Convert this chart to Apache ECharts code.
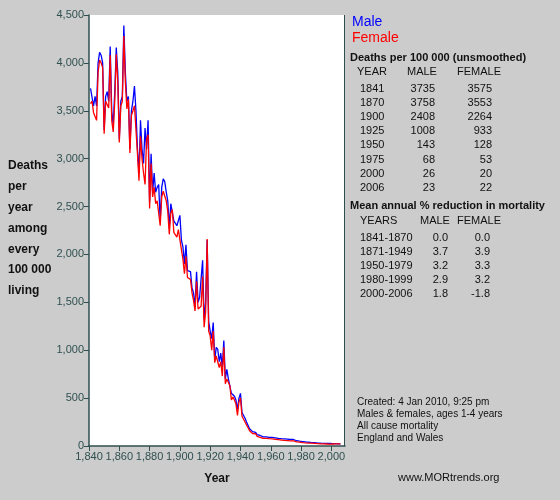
<!DOCTYPE html><html><head><meta charset="utf-8"><script src="https://cdn.jsdelivr.net/npm/echarts@6/dist/echarts.min.js"></script>
<style>html,body{margin:0;background:#ccc}#c{width:560px;height:500px}</style></head><body><div id="c"></div><script>
const startYear=1841;
const male=[3735,3720,3550,3650,3550,4000,4110,4080,4000,3300,
3650,3700,3600,4170,3500,3350,3700,4160,3900,3200,
3600,3650,4390,3900,3600,3650,3100,3500,3600,3758,
3500,3100,2850,3400,3100,2950,3320,3100,3400,2550,
3050,2650,2850,2650,2700,2730,2350,2700,2790,2760,
2650,2560,2280,2530,2520,2350,2350,2300,2300,2408,
2150,2080,1900,2100,1830,1820,1820,1650,1600,1450,
1820,1500,1550,1550,1940,1320,1500,2150,1300,1200,
1120,1290,900,1030,1008,880,970,820,1100,700,
800,700,690,550,570,520,480,380,500,550,
350,330,290,250,230,180,170,150,130,143,
120,110,110,100,95,90,95,92,90,88,
90,88,85,82,80,78,76,75,74,72,
72,70,68,66,68,60,55,52,50,48,
46,44,42,40,40,38,36,35,34,32,
31,30,29,28,28,27,27,26,26,26,
25,25,24,24,23,23];
const female=[3575,3600,3480,3500,3400,3900,4030,4000,3950,3260,
3600,3600,3530,4080,3400,3280,3600,4090,3800,3170,
3550,3600,4280,3800,3520,3620,3060,3450,3500,3553,
3300,3050,2770,3230,3000,2850,2730,3200,3250,2480,
2950,2600,2700,2530,2560,2580,2300,2600,2660,2640,
2560,2450,2210,2430,2470,2230,2230,2180,2260,2264,
2050,1950,1800,1980,1760,1740,1740,1600,1520,1410,
1720,1430,1450,1460,1770,1240,1400,2160,1200,1150,
1000,1200,870,940,933,820,880,730,1030,650,
700,680,630,480,510,480,440,320,460,500,
310,300,250,220,190,160,140,130,115,128,
100,95,90,85,80,78,80,78,76,75,
74,72,70,68,66,64,62,60,58,56,
56,55,54,52,53,48,44,42,40,38,
36,34,33,32,31,30,29,28,27,26,
25,24,23,23,22,22,21,21,20,20,
21,21,22,22,22,22];
const tableRows=[["1841","3735","3575"],["1870","3758","3553"],["1900","2408","2264"],["1925","1008","933"],["1950","143","128"],["1975","68","53"],["2000","26","20"],["2006","23","22"]];
const redRows=[["1841-1870","0.0","0.0"],["1871-1949","3.7","3.9"],["1950-1979","3.2","3.3"],["1980-1999","2.9","3.2"],["2000-2006","1.8","-1.8"]];
const notes=["Created: 4 Jan 2010, 9:25 pm","Males & females, ages 1-4 years","All cause mortality","England and Wales"];
const yTitle=["Deaths","per","year","among","every","100 000","living"];
const F='Arial, "Liberation Sans", sans-serif';
const toPairs=a=>a.map((v,i)=>[startYear+i,v]);
const g=[];
const t=(x,y,text,o={})=>g.push({type:'text',x,y,style:Object.assign({text,font:(o.bold?'bold ':'')+(o.size||11)+'px '+F,fill:o.color||'#111',align:o.align||'left',verticalAlign:'middle'},{})});
t(352,22,'Male',{size:14,color:'#0000ff'});
t(352,38,'Female',{size:14,color:'#ff0000'});
t(350,58,'Deaths per 100 000 (unsmoothed)',{bold:true});
t(357,72,'YEAR');t(407,72,'MALE');t(457,72,'FEMALE');
tableRows.forEach((r,i)=>{const y=89+i*14.1;t(360,y,r[0]);t(435,y,r[1],{align:'right'});t(492,y,r[2],{align:'right'});});
t(350,206,'Mean annual % reduction in mortality',{bold:true});
t(360,221,'YEARS');t(420,221,'MALE');t(457,221,'FEMALE');
redRows.forEach((r,i)=>{const y=238+i*14;t(360,y,r[0]);t(448,y,r[1],{align:'right'});t(490,y,r[2],{align:'right'});});
notes.forEach((s,i)=>t(357,402+i*12,s,{size:10}));
t(398,478,'www.MORtrends.org');
yTitle.forEach((s,i)=>t(8,166+i*20.8,s,{bold:true,size:12}));
t(217,479,'Year',{bold:true,size:12,align:'center'});
const ch=echarts.init(document.getElementById('c'));
ch.setOption({backgroundColor:'#cccccc',animation:false,
grid:{left:89,right:215,top:15,bottom:54,show:true,backgroundColor:'#fff',borderWidth:0},
xAxis:{type:'value',min:1840,max:2009,interval:20,axisLine:{lineStyle:{color:'#2f4f4f',width:1.5}},axisTick:{lineStyle:{color:'#2f4f4f'}},splitLine:{show:false},
 axisLabel:{color:'#2f4f4f',fontFamily:F,fontSize:11,margin:5,showMaxLabel:false}},
yAxis:{type:'value',min:0,max:4500,interval:500,axisLine:{show:true,lineStyle:{color:'#2f4f4f',width:1.5}},axisTick:{show:true,lineStyle:{color:'#2f4f4f'}},splitLine:{show:false},
 axisLabel:{color:'#2f4f4f',fontFamily:F,fontSize:11,margin:5}},
graphic:g.concat([{type:'rect',shape:{x:344,y:15,width:1,height:431},style:{fill:'#2f4f4f'}}]),
series:[{type:'line',data:toPairs(male),showSymbol:false,lineStyle:{color:'#0000ff',width:1.3}},
{type:'line',data:toPairs(female),showSymbol:false,lineStyle:{color:'#ff0000',width:1.3}}]});
</script></body></html>
